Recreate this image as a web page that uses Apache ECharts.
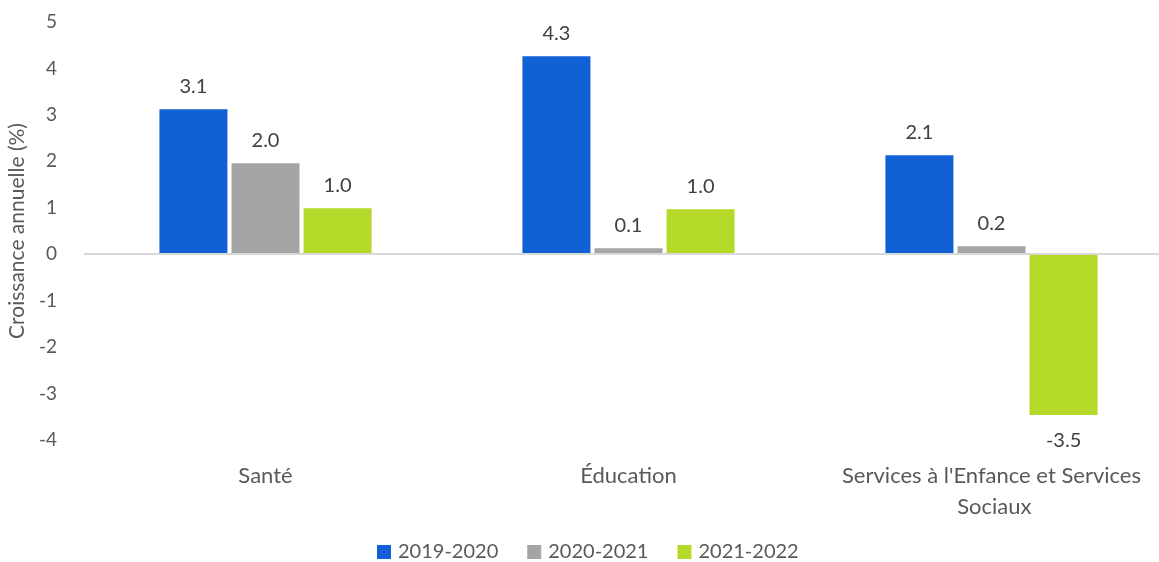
<!DOCTYPE html>
<html>
<head>
<meta charset="utf-8">
<script src="https://cdn.jsdelivr.net/npm/echarts@6/dist/echarts.min.js"></script>
<style>html,body{margin:0;padding:0;background:#fff;}#c{width:1159px;height:562px;}</style>
</head>
<body>
<div id="c"></div>
<script>
const categories = ["Santé", "Éducation", "Services à l'Enfance et Services Sociaux"];
const seriesNames = ["2019-2020", "2020-2021", "2021-2022"];
const v2019 = [3.12, 4.26, 2.13];
const v2020 = [1.96, 0.13, 0.17];
const v2021 = [0.99, 0.97, -3.46];
const yTicks = [-4, -3, -2, -1, 0, 1, 2, 3, 4, 5];
const colors = ["#1160D6", "#A5A5A5", "#B5D929"];

const FONT = "Lato";
function mkSeries(name, vals, color, withLine) {
  const s = {
    name: name,
    type: 'bar',
    barWidth: 68,
    barGap: '6%',
    itemStyle: { color: color },
    data: vals.map(v => ({
      value: v,
      label: { position: v < 0 ? 'bottom' : 'top', distance: v < 0 ? 16 : 13 }
    })),
    label: {
      show: true,
      formatter: p => (Math.round(p.value * 10) / 10).toFixed(1),
      color: '#404040',
      fontFamily: FONT,
      fontSize: 20
    }
  };
  if (withLine) {
    s.markLine = {
      silent: true,
      symbol: 'none',
      label: { show: false },
      lineStyle: { color: '#D9D9D9', type: 'solid', width: 2 },
      data: [{ yAxis: 0 }]
    };
  }
  return s;
}

const chart = echarts.init(document.getElementById('c'));
chart.setOption({
  animation: false,
  color: colors,
  grid: { left: 84, top: 22, width: 1089, bottom: 122, outerBoundsMode: 'none', containLabel: false },
  legend: {
    top: 542,
    left: 377,
    padding: 0,
    itemWidth: 14,
    itemHeight: 14,
    itemGap: 29,
    icon: 'rect',
    textStyle: { color: '#595959', fontFamily: FONT, fontSize: 20, padding: [0, 0, 0, 2] },
    data: seriesNames
  },
  xAxis: {
    type: 'category',
    data: categories,
    axisLine: { show: false, onZero: false },
    axisTick: { show: false },
    axisLabel: {
      interval: 0,
      hideOverlap: false,
      margin: 20,
      color: '#595959',
      fontFamily: FONT,
      fontSize: 22,
      lineHeight: 31,
      width: 315,
      overflow: 'break'
    }
  },
  yAxis: {
    type: 'value',
    min: yTicks[0],
    max: yTicks[yTicks.length - 1],
    interval: 1,
    name: 'Croissance annuelle (%)',
    nameLocation: 'middle',
    nameGap: 38,
    nameTextStyle: { color: '#595959', fontFamily: FONT, fontSize: 21 },
    axisLine: { show: false },
    axisTick: { show: false },
    splitLine: { show: false },
    axisLabel: { color: '#595959', fontFamily: FONT, fontSize: 19, margin: 27 }
  },
  series: [
    mkSeries(seriesNames[0], v2019, colors[0], true),
    mkSeries(seriesNames[1], v2020, colors[1], false),
    mkSeries(seriesNames[2], v2021, colors[2], false)
  ]
});
</script>
</body>
</html>
